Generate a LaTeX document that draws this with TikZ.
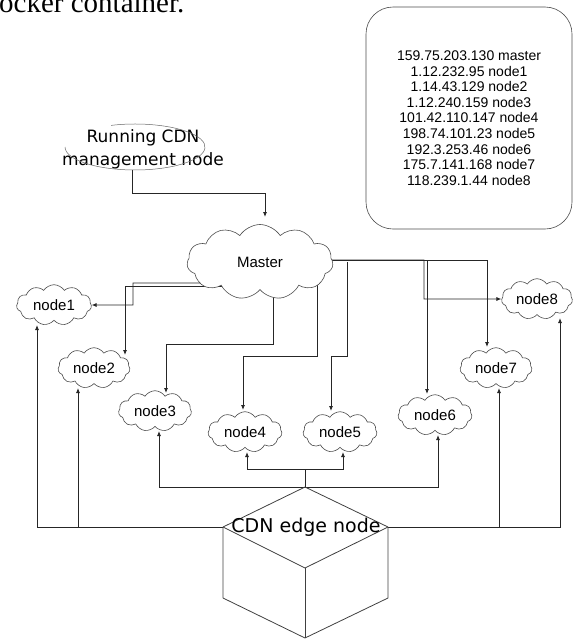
\documentclass[tikz,border=0pt]{standalone}
\usepackage{fontspec}
\setmainfont{Liberation Sans}
\newfontfamily\dvs{DejaVu Sans}
\newfontfamily\serifx{Liberation Serif}
\usetikzlibrary{shapes.symbols,arrows.meta,backgrounds}
\begin{document}
\begin{tikzpicture}[x=1pt,y=-1pt,
  cl/.style={cloud, cloud puffs=11, cloud puff arc=115, aspect=1.8, draw=black!70, fill=white,
    line width=0.6pt, inner sep=0pt, font=\fontsize{15}{15}\selectfont},
  conn/.style={draw=black!85, line width=0.8pt},
  arr/.style={conn, -{Latex[length=5pt,width=4pt]}},
  cube/.style={draw=black!75, line width=0.8pt, line join=round},
]
\useasboundingbox (0,0) rectangle (574,640);

% cut caption at top
\node[font=\serifx\fontsize{29}{29}\selectfont, anchor=base west, inner sep=0pt] (cap) at (-1,12) {ocker container.};

% IP list box
\node[draw=black!70, line width=0.6pt, rounded corners=27pt, minimum width=206pt, minimum height=222pt,
  align=center, font=\fontsize{14}{15.6}\selectfont] (ips) at (469,118)
  {159.75.203.130 master\\1.12.232.95 node1\\1.14.43.129 node2\\1.12.240.159 node3\\101.42.110.147 node4\\198.74.101.23 node5\\192.3.253.46 node6\\175.7.141.168 node7\\118.239.1.44 node8};

% management node
\node[font=\dvs\fontsize{17}{23}\selectfont, align=center, inner sep=0pt] (mgmt) at (143,149) {Running CDN\\management node};
\draw[black!60, line width=0.5pt] (135,147) ++(250:70 and 23) arc[start angle=250, end angle=540, x radius=70, y radius=23];
\coordinate (mgmtb) at (132,170);
\coordinate (mtop) at (265,217);

% clouds
\node[cl, minimum width=146pt, minimum height=75pt] (master) at (260,262) {Master};
\node[cl, minimum width=75pt, minimum height=40pt] (n1) at (54,305) {node1};
\node[cl, minimum width=72pt, minimum height=39pt] (n2) at (94,368) {node2};
\node[cl, minimum width=73pt, minimum height=38pt] (n3) at (155,411) {node3};
\node[cl, minimum width=74pt, minimum height=40pt] (n4) at (245,432) {node4};
\node[cl, minimum width=74pt, minimum height=40pt] (n5) at (340,432) {node5};
\node[cl, minimum width=74pt, minimum height=40pt] (n6) at (435,415) {node6};
\node[cl, minimum width=72pt, minimum height=40pt] (n7) at (496,368) {node7};
\node[cl, minimum width=71pt, minimum height=38pt] (n8) at (537,299) {node8};

% cube (CDN edge node)
\coordinate (cT) at (305,487);
\coordinate (cL) at (223,527);
\coordinate (cR) at (388,527);
\coordinate (cF) at (305,568);
\coordinate (cBL) at (223,598);
\coordinate (cBR) at (388,598);
\coordinate (cB) at (305,638);
\draw[cube] (cT) -- (cL) -- (cF) -- (cR) -- cycle;
\draw[cube] (cL) -- (cBL) -- (cB) -- (cBR) -- (cR);
\draw[cube] (cF) -- (cB);
\node[font=\dvs\fontsize{19}{19}\selectfont, inner sep=0pt] (edge) at (306,527) {CDN edge node};

% arrow end points
\coordinate (e2) at (125,355);
\coordinate (e3) at (166,393);
\coordinate (e4) at (243,410);
\coordinate (e5) at (331,411);
\coordinate (e6) at (427,394);
\coordinate (e7) at (487,347);
\coordinate (e1b) at (37,325);
\coordinate (e2b) at (78,388);
\coordinate (e3b) at (159,431);
\coordinate (e4b) at (247,452);
\coordinate (e5b) at (343,452);
\coordinate (e6b) at (438,435);
\coordinate (e7b) at (499,388);
\coordinate (e8b) at (560,318);

\begin{scope}[on background layer]
  \draw[arr] (mgmtb) -- ++(0,23) -| (mtop);
  % master to nodes
  \draw[arr] (master.center |- 0,283) -| (133,305) -- (n1.east);
  \draw[arr] (master.center |- 0,286) -| (e2);
  \draw[arr] (master.center -| 273,0) -- (273,344) -| (e3);
  \draw[arr] (master.center -| 317,0) -- (317,356) -| (e4);
  \draw[arr] (master.center -| 347,0) -- (347,356) -| (e5);
  \draw[arr] (master.center |- 0,260) -| (e7);
  \draw[arr] (master.center |- 0,260) -| (424,299) -- (n8.west);
  \draw[arr] (master.center |- 0,260) -| (e6);
  % edge node to nodes
  \draw[arr] (cT) -- (305,469) -| (e4b);
  \draw[arr] (cT) -- (305,469) -| (e5b);
  \draw[arr] (cT) -| (e3b);
  \draw[arr] (cT) -| (e6b);
  \draw[arr] (cL) -| (e1b);
  \draw[arr] (cL) -| (e2b);
  \draw[arr] (cR) -| (e7b);
  \draw[arr] (cR) -| (e8b);
\end{scope}
\end{tikzpicture}
\end{document}
